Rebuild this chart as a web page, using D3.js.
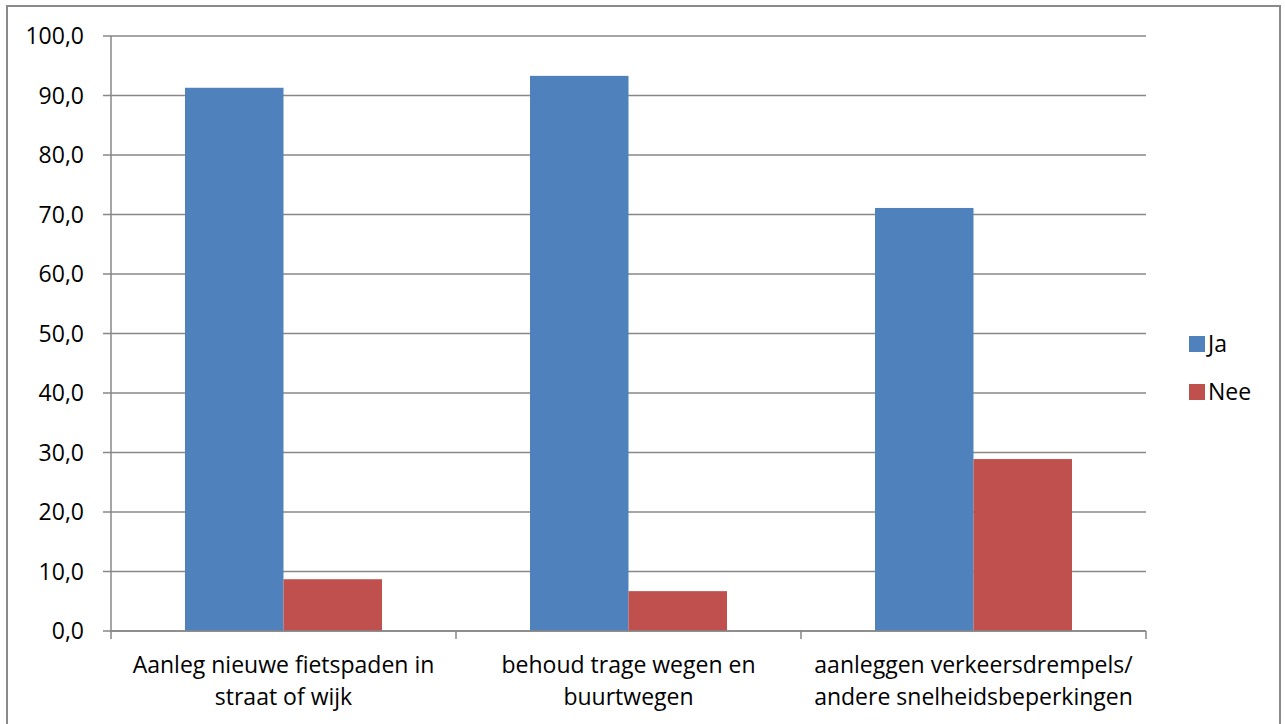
<!DOCTYPE html>
<html><head><meta charset="utf-8">
<script src="https://cdn.jsdelivr.net/npm/d3@7/dist/d3.min.js"></script>
<style>html,body{margin:0;padding:0;background:#fff;}svg{display:block;}</style>
</head><body>
<svg id="chart" width="1285" height="724"></svg>
<script>
const categories = [
  ["Aanleg nieuwe fietspaden in", "straat of wijk"],
  ["behoud trage wegen en", "buurtwegen"],
  ["aanleggen verkeersdrempels/", "andere snelheidsbeperkingen"]
];
const seriesNames = ["Ja", "Nee"];
const jaValues = [91.3, 93.3, 71.1];
const neeValues = [8.7, 6.7, 28.9];
const yTicks = [0, 10, 20, 30, 40, 50, 60, 70, 80, 90, 100];
const colors = ["#4F81BD", "#C0504D"];

(function () {
const svg = d3.select("#chart");
const font = "'Open Sans', sans-serif";
const fs = 23;
const pLeft = 111, pRight = 1146, pTop = 36, pBottom = 631;

// outer frame
svg.append("rect").attr("x", 7).attr("y", 6).attr("width", 1273).attr("height", 730)
  .attr("fill", "none").attr("stroke", "#8a8a8a").attr("stroke-width", 2);

const x = d3.scaleBand().domain(d3.range(categories.length)).range([pLeft, pRight]).paddingInner(0).paddingOuter(0);
const xInner = d3.scaleBand().domain(seriesNames).range([74, x.bandwidth() - 74]);
const y = d3.scaleLinear().domain([0, 100]).range([pBottom, pTop]);

// gridlines
svg.append("g").selectAll("line").data(yTicks).join("line")
  .attr("x1", pLeft - 8).attr("x2", pRight)
  .attr("y1", d => y(d)).attr("y2", d => y(d))
  .attr("stroke", "#878787").attr("stroke-width", 1.5);

// y axis line
svg.append("line").attr("x1", pLeft).attr("x2", pLeft).attr("y1", pTop).attr("y2", pBottom)
  .attr("stroke", "#878787").attr("stroke-width", 1.5);

// y labels
svg.append("g").selectAll("text").data(yTicks).join("text")
  .attr("x", 84).attr("y", d => y(d)).attr("dy", "0.36em")
  .attr("text-anchor", "end").attr("font-family", font).attr("font-size", fs).attr("fill", "#000")
  .text(d => d.toFixed(1).replace(".", ","));

// bars
const data = [jaValues, neeValues];
seriesNames.forEach((s, si) => {
  svg.append("g").selectAll("rect").data(data[si]).join("rect")
    .attr("x", (d, i) => x(i) + xInner(s))
    .attr("width", xInner.bandwidth())
    .attr("y", d => y(d))
    .attr("height", d => y(0) - y(d))
    .attr("fill", colors[si]);
});

// x axis line and ticks
svg.append("line").attr("x1", pLeft).attr("x2", pRight).attr("y1", pBottom).attr("y2", pBottom)
  .attr("stroke", "#878787").attr("stroke-width", 1.5);
const bounds = d3.range(categories.length + 1).map(i => i < categories.length ? x(i) : pRight);
svg.append("g").selectAll("line").data(bounds).join("line")
  .attr("x1", d => d).attr("x2", d => d).attr("y1", pBottom).attr("y2", pBottom + 8)
  .attr("stroke", "#878787").attr("stroke-width", 1.5);

// category labels
categories.forEach((lines, i) => {
  const t = svg.append("text").attr("text-anchor", "middle")
    .attr("font-family", font).attr("font-size", fs).attr("fill", "#000");
  lines.forEach((l, j) => {
    t.append("tspan").attr("x", x(i) + x.bandwidth() / 2).attr("y", 673 + j * 32).text(l);
  });
});

// legend
seriesNames.forEach((s, i) => {
  const ly = 344 + i * 48;
  svg.append("rect").attr("x", 1189).attr("y", ly - 8).attr("width", 16).attr("height", 16).attr("fill", colors[i]);
  svg.append("text").attr("x", 1208).attr("y", ly).attr("dy", "0.36em")
    .attr("font-family", font).attr("font-size", fs).attr("fill", "#000").text(s);
});
})();
</script>
</body></html>
